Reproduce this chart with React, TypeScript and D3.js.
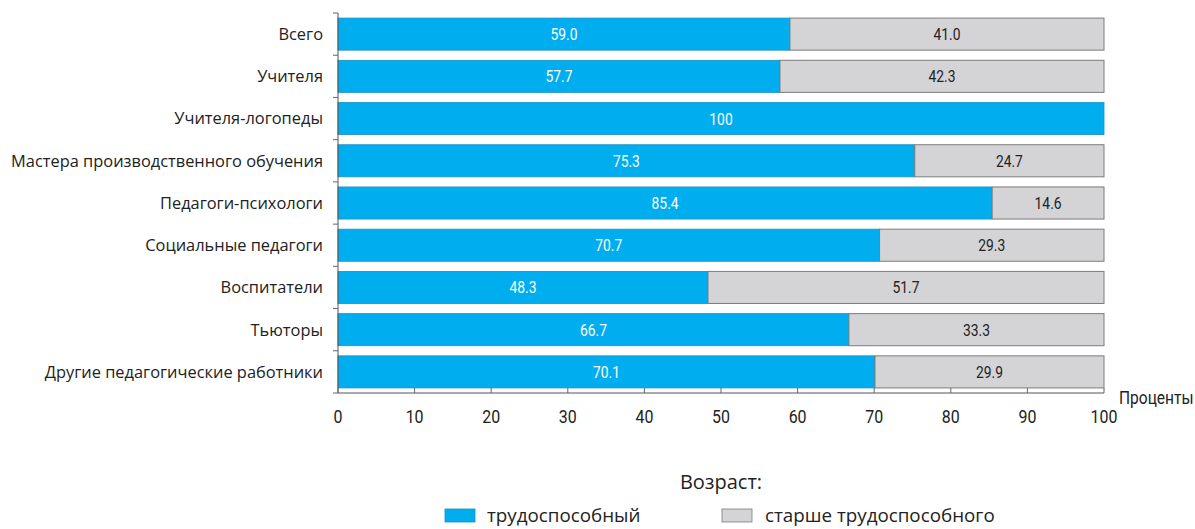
import React from "react";
import * as d3 from "d3";

const categories = [
  "Всего",
  "Учителя",
  "Учителя-логопеды",
  "Мастера производственного обучения",
  "Педагоги-психологи",
  "Социальные педагоги",
  "Воспитатели",
  "Тьюторы",
  "Другие педагогические работники",
];
const working = [59.0, 57.7, 100, 75.3, 85.4, 70.7, 48.3, 66.7, 70.1];
const older = [41.0, 42.3, 0, 24.7, 14.6, 29.3, 51.7, 33.3, 29.9];
const workingLabels = ["59.0", "57.7", "100", "75.3", "85.4", "70.7", "48.3", "66.7", "70.1"];
const olderLabels = ["41.0", "42.3", "", "24.7", "14.6", "29.3", "51.7", "33.3", "29.9"];
const xTicks = [0, 10, 20, 30, 40, 50, 60, 70, 80, 90, 100];
const seriesNames = ["трудоспособный", "старше трудоспособного"];

const BLUE = "#00aeef";
const GRAY = "#d4d4d6";
const numFont = "'Roboto', sans-serif";
const textFont = "'Open Sans', 'Noto Sans', sans-serif";

function Narrow(props: { x: number; y: number; size: number; fill?: string; anchor?: string; dy?: string; children: React.ReactNode }) {
  return (
    <g transform={`translate(${props.x},${props.y}) scale(0.84,1)`}>
      <text x={0} y={0} dy={props.dy} textAnchor={props.anchor || "middle"} fill={props.fill || "#222"} fontFamily={numFont} fontSize={props.size}>
        {props.children}
      </text>
    </g>
  );
}

export default function App() {
  const W = 1195, H = 529;
  const x = d3.scaleLinear().domain([0, 100]).range([338, 1104]);
  const y = d3.scaleBand().domain(categories).range([13, 393]).paddingInner(0.24).paddingOuter(0.12);
  const outer = d3.scaleBand().domain(categories).range([13, 393]);

  return (
    <svg width={W} height={H} style={{ position: "absolute", left: 0, top: 0 }}>
      {categories.map((c, i) => {
        const y0 = y(c)!;
        const bh = y.bandwidth();
        return (
          <g key={c}>
            <rect x={x(0)} y={y0} width={x(working[i]) - x(0)} height={bh} fill={BLUE} stroke="#1b8fc0" strokeWidth={0.8} />
            {older[i] > 0 && (
              <rect x={x(working[i])} y={y0} width={x(working[i] + older[i]) - x(working[i])} height={bh} fill={GRAY} stroke="#7c7c7c" strokeWidth={1} />
            )}
            <Narrow x={(x(0) + x(working[i])) / 2} y={y0 + bh / 2} dy="0.36em" size={16.5} fill="#fff">
              {workingLabels[i]}
            </Narrow>
            {older[i] > 0 && (
              <Narrow x={(x(working[i]) + x(working[i] + older[i])) / 2} y={y0 + bh / 2} dy="0.36em" size={16.5} fill="#222">
                {olderLabels[i]}
              </Narrow>
            )}
            <text x={323} y={y0 + bh / 2} dy="0.36em" textAnchor="end" fill="#222" fontFamily={textFont} fontSize={16.4}>
              {c}
            </text>
          </g>
        );
      })}
      {/* y axis */}
      <line x1={338} x2={338} y1={13} y2={393} stroke="#555" strokeWidth={1} />
      {categories.map((c) => (
        <line key={"t" + c} x1={333} x2={338} y1={outer(c)!} y2={outer(c)!} stroke="#666" strokeWidth={1} />
      ))}
      <line x1={333} x2={338} y1={393} y2={393} stroke="#666" strokeWidth={1} />
      {/* x axis */}
      <line x1={338} x2={1104} y1={393} y2={393} stroke="#555" strokeWidth={1} />
      {xTicks.map((t) => (
        <g key={"x" + t}>
          <line x1={x(t)} x2={x(t)} y1={388} y2={393} stroke="#666" strokeWidth={1} />
          <Narrow x={x(t)} y={423} size={19}>
            {t}
          </Narrow>
        </g>
      ))}
      <Narrow x={1119} y={404} size={18.5} anchor="start">
        Проценты
      </Narrow>
      {/* legend */}
      <text x={721} y={489} textAnchor="middle" fill="#222" fontFamily={textFont} fontSize={20}>
        Возраст:
      </text>
      <rect x={445} y={509} width={30} height={13} fill={BLUE} stroke="#1b8fc0" strokeWidth={0.8} />
      <text x={487} y={522} fill="#222" fontFamily={textFont} fontSize={18.8}>
        {seriesNames[0]}
      </text>
      <rect x={722} y={509} width={30} height={13} fill={GRAY} stroke="#7c7c7c" strokeWidth={0.8} />
      <text x={765} y={522} fill="#222" fontFamily={textFont} fontSize={18.8}>
        {seriesNames[1]}
      </text>
    </svg>
  );
}
